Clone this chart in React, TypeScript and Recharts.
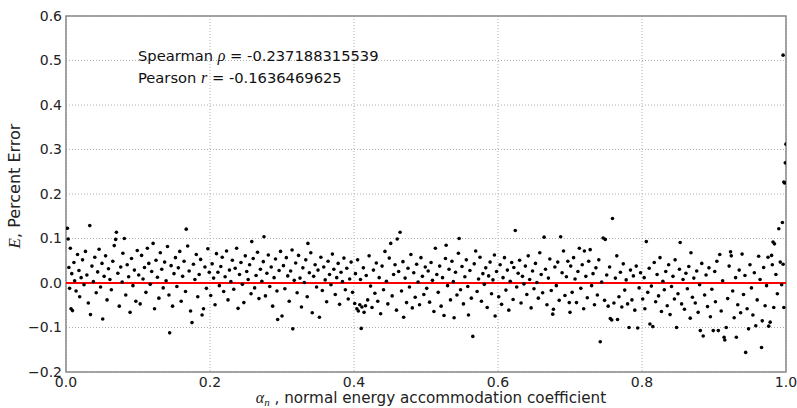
import {
  CartesianGrid,
  ReferenceArea,
  ReferenceDot,
  ReferenceLine,
  Scatter,
  ScatterChart,
  XAxis,
  YAxis,
} from 'recharts'

// [alpha_n, E] pairs
const band0 = [
  [0.002, 0.123], [0.003, 0.099], [0.004, 0.035], [0.005, -0.012], [0.006, 0.078], [0.007, -0.058], [0.008, 0.021], [0.009, -0.062],
  [0.011, 0.046], [0.012, 0.005], [0.014, -0.018], [0.016, 0.064], [0.018, 0.028], [0.019, -0.031], [0.021, 0.012], [0.023, 0.052],
  [0.025, -0.004], [0.027, 0.071], [0.029, 0.018], [0.031, -0.045], [0.033, 0.129], [0.034, -0.071], [0.036, 0.038], [0.038, 0.003],
  [0.04, 0.058], [0.042, -0.022], [0.044, 0.025], [0.046, 0.076], [0.048, -0.009], [0.05, 0.044], [0.051, -0.081], [0.053, 0.015],
  [0.055, 0.061], [0.057, -0.038], [0.059, 0.032], [0.061, 0.008], [0.063, -0.015], [0.065, 0.049], [0.067, 0.084], [0.069, 0.098],
  [0.07, 0.114], [0.072, 0.022], [0.074, -0.052], [0.076, 0.036], [0.078, 0.002], [0.079, 0.067], [0.081, 0.1], [0.083, -0.027],
  [0.085, 0.041], [0.087, 0.014], [0.089, -0.066], [0.091, 0.055], [0.093, -0.006], [0.095, 0.029], [0.097, -0.041], [0.099, 0.073],
]
const band1 = [
  [0.101, 0.018], [0.103, -0.047], [0.105, 0.062], [0.107, 0.009], [0.109, 0.035], [0.111, -0.021], [0.113, 0.078], [0.115, 0.044],
  [0.117, -0.003], [0.119, 0.026], [0.121, 0.089], [0.123, -0.058], [0.125, 0.051], [0.127, 0.013], [0.129, -0.034], [0.131, 0.068],
  [0.133, 0.031], [0.135, -0.011], [0.137, 0.047], [0.139, 0.005], [0.141, 0.082], [0.143, -0.027], [0.144, -0.112], [0.146, 0.039],
  [0.148, -0.052], [0.15, 0.021], [0.152, 0.057], [0.154, -0.008], [0.156, 0.034], [0.158, 0.071], [0.16, -0.041], [0.162, 0.015],
  [0.164, 0.049], [0.166, -0.019], [0.167, 0.121], [0.169, 0.083], [0.171, 0.027], [0.173, -0.063], [0.175, -0.089], [0.177, 0.042],
  [0.179, 0.008], [0.181, 0.064], [0.183, -0.031], [0.185, 0.019], [0.187, 0.053], [0.189, -0.072], [0.191, -0.058], [0.193, 0.036],
  [0.195, -0.012], [0.197, 0.077], [0.199, 0.024],
]
const band2 = [
  [0.201, -0.028], [0.203, 0.043], [0.205, 0.011], [0.207, -0.049], [0.209, 0.066], [0.211, 0.024], [0.213, -0.006], [0.215, 0.037],
  [0.217, 0.058], [0.219, -0.019], [0.221, 0.014], [0.223, 0.072], [0.225, -0.038], [0.227, 0.029], [0.229, 0.003], [0.231, 0.051],
  [0.233, -0.014], [0.235, 0.033], [0.237, 0.078], [0.239, -0.057], [0.241, 0.019], [0.243, 0.046], [0.245, -0.003], [0.247, -0.044],
  [0.249, 0.061], [0.251, 0.026], [0.253, 0.008], [0.255, 0.041], [0.257, -0.024], [0.258, 0.093], [0.26, 0.055], [0.262, -0.011],
  [0.264, 0.017], [0.266, 0.069], [0.268, -0.035], [0.27, 0.031], [0.272, 0.004], [0.274, 0.048], [0.275, 0.104], [0.277, -0.029],
  [0.279, 0.022], [0.281, 0.063], [0.283, -0.008], [0.285, 0.036], [0.287, -0.052], [0.289, 0.012], [0.291, 0.054], [0.293, -0.018],
  [0.294, -0.082], [0.296, 0.028], [0.298, 0.071], [0.3, -0.074],
]
const band3 = [
  [0.302, 0.039], [0.304, -0.013], [0.306, 0.057], [0.308, 0.016], [0.31, -0.041], [0.312, 0.027], [0.314, 0.074], [0.315, -0.103],
  [0.317, 0.006], [0.319, 0.045], [0.321, -0.022], [0.323, 0.062], [0.325, 0.011], [0.327, -0.054], [0.329, 0.034], [0.331, 0.001],
  [0.333, 0.052], [0.335, -0.031], [0.336, 0.089], [0.338, 0.023], [0.34, 0.068], [0.342, -0.067], [0.344, 0.015], [0.346, 0.041],
  [0.348, -0.009], [0.35, 0.029], [0.352, -0.077], [0.354, 0.058], [0.356, -0.017], [0.358, 0.036], [0.36, 0.007], [0.362, -0.042],
  [0.364, 0.049], [0.366, 0.019], [0.368, -0.004], [0.37, 0.065], [0.372, 0.031], [0.374, -0.026], [0.376, 0.012], [0.378, 0.044],
  [0.38, -0.048], [0.382, 0.024], [0.384, 0.003], [0.386, 0.056], [0.388, -0.015], [0.39, 0.033], [0.392, -0.036], [0.394, 0.009],
  [0.396, 0.047], [0.398, -0.021],
]
const band4 = [
  [0.401, -0.046], [0.402, 0.021], [0.404, -0.058], [0.405, 0.052], [0.406, -0.063], [0.408, -0.049], [0.409, 0.008], [0.41, -0.102],
  [0.411, -0.054], [0.413, 0.034], [0.414, -0.066], [0.416, -0.051], [0.417, 0.017], [0.419, -0.038], [0.421, 0.061], [0.423, -0.007],
  [0.425, -0.055], [0.427, 0.029], [0.429, -0.023], [0.431, 0.045], [0.433, -0.041], [0.435, 0.012], [0.437, -0.069], [0.439, 0.038],
  [0.441, -0.015], [0.443, 0.071], [0.445, 0.004], [0.447, -0.047], [0.449, 0.056], [0.451, 0.089], [0.453, -0.029], [0.455, 0.019],
  [0.457, 0.041], [0.459, -0.061], [0.46, 0.099], [0.462, 0.026], [0.464, 0.114], [0.466, -0.018], [0.468, 0.048], [0.469, -0.077],
  [0.471, 0.011], [0.473, -0.044], [0.475, 0.033], [0.477, -0.009], [0.479, 0.064], [0.481, -0.056], [0.483, 0.023], [0.485, -0.032],
  [0.487, 0.042], [0.489, 0.002], [0.491, -0.049], [0.493, 0.057], [0.495, 0.015], [0.497, -0.026], [0.499, 0.036],
]
const band5 = [
  [0.501, -0.012], [0.503, 0.027], [0.505, -0.043], [0.507, 0.046], [0.509, 0.006], [0.511, -0.064], [0.513, 0.078], [0.515, 0.019],
  [0.517, -0.021], [0.519, 0.038], [0.521, -0.052], [0.523, 0.012], [0.525, -0.073], [0.527, 0.055], [0.528, 0.085], [0.53, -0.006],
  [0.532, 0.031], [0.534, -0.038], [0.536, 0.049], [0.538, 0.003], [0.539, -0.078], [0.541, 0.024], [0.543, -0.027], [0.545, 0.067],
  [0.546, 0.1], [0.548, -0.015], [0.55, 0.037], [0.552, -0.047], [0.554, 0.014], [0.556, 0.052], [0.558, -0.008], [0.559, -0.072],
  [0.561, 0.028], [0.563, -0.034], [0.565, -0.12], [0.567, 0.043], [0.569, 0.072], [0.571, -0.019], [0.573, 0.009], [0.575, 0.058],
  [0.577, -0.041], [0.579, 0.021], [0.581, -0.003], [0.583, 0.034], [0.585, -0.055], [0.587, 0.016], [0.589, 0.047], [0.591, -0.024],
  [0.593, 0.007], [0.595, 0.063], [0.596, -0.074], [0.598, 0.026],
]
const band6 = [
  [0.601, -0.031], [0.603, 0.041], [0.605, -0.048], [0.607, 0.012], [0.609, 0.057], [0.611, -0.016], [0.613, 0.029], [0.615, -0.061],
  [0.617, 0.004], [0.619, 0.046], [0.621, -0.037], [0.622, 0.035], [0.624, 0.118], [0.626, -0.009], [0.628, 0.022], [0.63, 0.051],
  [0.632, -0.045], [0.634, 0.015], [0.636, -0.002], [0.638, 0.038], [0.64, -0.026], [0.642, 0.061], [0.644, 0.008], [0.646, -0.056],
  [0.648, 0.027], [0.65, -0.013], [0.652, 0.044], [0.654, 0.001], [0.656, -0.034], [0.658, 0.068], [0.66, 0.019], [0.662, -0.022],
  [0.664, 0.103], [0.666, 0.031], [0.668, -0.049], [0.67, 0.011], [0.672, 0.054], [0.674, -0.017], [0.676, -0.07], [0.677, -0.059],
  [0.679, 0.036], [0.681, -0.006], [0.683, 0.047], [0.685, -0.039], [0.687, 0.104], [0.689, 0.023], [0.691, 0.072], [0.693, -0.028],
  [0.695, 0.014], [0.697, 0.049], [0.699, -0.044], [0.7, -0.066],
]
const band7 = [
  [0.701, 0.038], [0.703, -0.021], [0.705, 0.057], [0.707, 0.009], [0.709, -0.044], [0.711, 0.026], [0.713, 0.078], [0.715, -0.012],
  [0.717, 0.041], [0.719, -0.058], [0.72, 0.072], [0.722, 0.015], [0.724, -0.033], [0.726, 0.049], [0.728, 0.075], [0.73, -0.006],
  [0.732, 0.021], [0.734, -0.049], [0.736, 0.034], [0.738, -0.027], [0.74, 0.052], [0.742, -0.132], [0.744, 0.002], [0.746, 0.101],
  [0.748, -0.039], [0.749, 0.098], [0.751, 0.018], [0.753, -0.052], [0.755, 0.036], [0.756, -0.08], [0.758, -0.083], [0.759, 0.145],
  [0.761, -0.045], [0.763, 0.011], [0.765, 0.061], [0.766, -0.082], [0.768, -0.031], [0.77, 0.024], [0.772, -0.054], [0.774, 0.043],
  [0.776, -0.016], [0.778, 0.007], [0.78, -0.047], [0.782, -0.1], [0.784, 0.029], [0.786, -0.038], [0.788, 0.016], [0.79, -0.061],
  [0.792, 0.038], [0.794, -0.101], [0.796, -0.011], [0.798, 0.023],
]
const band8 = [
  [0.801, -0.036], [0.803, 0.012], [0.804, -0.058], [0.806, 0.093], [0.808, -0.021], [0.81, 0.033], [0.811, -0.092], [0.813, -0.007],
  [0.815, -0.098], [0.817, 0.046], [0.819, -0.042], [0.821, 0.019], [0.823, -0.029], [0.825, 0.057], [0.827, -0.064], [0.829, 0.004],
  [0.831, -0.015], [0.833, 0.026], [0.835, -0.051], [0.837, 0.041], [0.839, -0.071], [0.841, -0.008], [0.843, 0.015], [0.845, -0.036],
  [0.846, 0.052], [0.848, -0.1], [0.85, -0.024], [0.852, 0.031], [0.853, 0.091], [0.855, -0.047], [0.857, 0.008], [0.859, -0.059],
  [0.861, 0.022], [0.863, -0.013], [0.865, 0.037], [0.867, -0.079], [0.868, 0.068], [0.87, -0.032], [0.872, 0.011], [0.874, -0.045],
  [0.876, 0.027], [0.878, -0.066], [0.88, -0.004], [0.881, -0.107], [0.883, 0.044], [0.885, -0.119], [0.887, -0.027], [0.889, 0.018],
  [0.891, -0.053], [0.893, 0.034], [0.895, -0.076], [0.897, -0.014], [0.899, -0.107],
]
const band9 = [
  [0.901, 0.026], [0.902, -0.042], [0.904, 0.049], [0.906, -0.107], [0.908, 0.064], [0.91, -0.063], [0.912, 0.005], [0.914, -0.122],
  [0.915, -0.128], [0.917, -0.1], [0.919, -0.035], [0.921, 0.038], [0.923, 0.07], [0.924, 0.061], [0.926, -0.018], [0.928, -0.078],
  [0.93, 0.012], [0.931, -0.122], [0.933, -0.049], [0.935, 0.029], [0.937, -0.067], [0.939, 0.065], [0.941, -0.026], [0.943, 0.017],
  [0.944, -0.156], [0.946, -0.058], [0.948, -0.103], [0.95, 0.041], [0.952, -0.011], [0.954, -0.072], [0.956, 0.023], [0.958, -0.096],
  [0.96, -0.038], [0.962, 0.06], [0.964, 0.008], [0.966, -0.145], [0.967, -0.085], [0.969, 0.035], [0.971, -0.051], [0.973, -0.006],
  [0.975, 0.058], [0.976, -0.097], [0.978, -0.088], [0.98, 0.062], [0.981, 0.041], [0.982, 0.092], [0.983, -0.055], [0.984, 0.088],
  [0.986, 0.019], [0.988, -0.024], [0.99, 0.122], [0.992, 0.047], [0.994, -0.004],
]
const edge = [
  [0.995, 0.136], [0.996, 0.512], [0.997, 0.227], [0.998, 0.225], [0.999, 0.27], [1.0, 0.312], [0.997, -0.055], [0.996, 0.042],
]

const xTicks = [0, 0.2, 0.4, 0.6, 0.8, 1.0]
const yTicks = [-0.2, -0.1, 0, 0.1, 0.2, 0.3, 0.4, 0.5, 0.6]
const spearman = '-0.237188315539'
const pearson = '-0.1636469625'

const points = [band0, band1, band2, band3, band4, band5, band6, band7, band8, band9, edge]
  .flat()
  .map(([a, e]) => ({ a, e }))

const font = 'DejaVu Sans, sans-serif'
const mathFont = 'Liberation Serif, DejaVu Serif, serif'
const fmt = (v: number) => (v < 0 ? '\u2212' + Math.abs(v).toFixed(1) : v.toFixed(1))

const Dot = (p: any) => <circle cx={p.cx} cy={p.cy} r={1.8} fill="#000" />

export default function App() {
  return (
    <div style={{ width: 797, height: 408, background: '#fff' }}>
      <style>{'body{margin:0}'}</style>
      <ScatterChart width={797} height={408} margin={{ top: 16, right: 11, bottom: 0, left: 0 }} style={{ fontFamily: font }}>
        <CartesianGrid stroke="#b0b0b0" strokeDasharray="1 2" />
        <XAxis
          type="number"
          dataKey="a"
          domain={[0, 1]}
          ticks={xTicks}
          tickFormatter={fmt}
          height={36}
          tickLine={false}
          axisLine={false}
          tickSize={0}
          tickMargin={5}
          tick={{ fill: '#222', fontSize: 14 }}
          allowDataOverflow
          label={{
            content: () => (
              <text x={431} y={403} textAnchor="middle" fontSize={15.2} fill="#222" fontFamily={font}>
                <tspan fontFamily={mathFont} fontStyle="italic" fontSize={16}>α</tspan>
                <tspan fontFamily={mathFont} fontStyle="italic" fontSize={11} dy={3}>n</tspan>
                <tspan dy={-3}> , normal energy accommodation coefficient</tspan>
              </text>
            ),
          }}
        />
        <YAxis
          type="number"
          dataKey="e"
          domain={[-0.2, 0.6]}
          ticks={yTicks}
          tickFormatter={fmt}
          width={66}
          tickLine={false}
          axisLine={false}
          tickSize={4}
          tickMargin={0}
          tick={{ fill: '#222', fontSize: 14 }}
          allowDataOverflow
          label={{
            content: () => (
              <text x={20} y={186} transform="rotate(-90 20 186)" textAnchor="middle" fontSize={16} fill="#222" fontFamily={font}>
                <tspan fontFamily={mathFont} fontStyle="italic" fontSize={17}>E</tspan>
                <tspan>, Percent Error</tspan>
              </text>
            ),
          }}
        />
        <Scatter data={points} shape={Dot} isAnimationActive={false} />
        <ReferenceLine y={0} stroke="#ff0000" strokeWidth={2} />
        <ReferenceDot
          x={0.1}
          y={0.5}
          r={0}
          shape={(p: any) => (
            <text x={p.cx} y={p.cy} fontSize={14.7} fill="#111" fontFamily={font}>
              Spearman <tspan fontFamily={mathFont} fontStyle="italic" fontSize={16}>ρ</tspan> = {spearman}
            </text>
          )}
        />
        <ReferenceDot
          x={0.1}
          y={0.45}
          r={0}
          shape={(p: any) => (
            <text x={p.cx} y={p.cy} fontSize={14.7} fill="#111" fontFamily={font}>
              Pearson <tspan fontFamily={mathFont} fontStyle="italic" fontSize={16}>r</tspan> = {pearson}
            </text>
          )}
        />
        <ReferenceArea x1={0} x2={1} y1={-0.2} y2={0.6} fill="none" stroke="#888" strokeWidth={1.5} ifOverflow="visible" />
      </ScatterChart>
    </div>
  )
}
